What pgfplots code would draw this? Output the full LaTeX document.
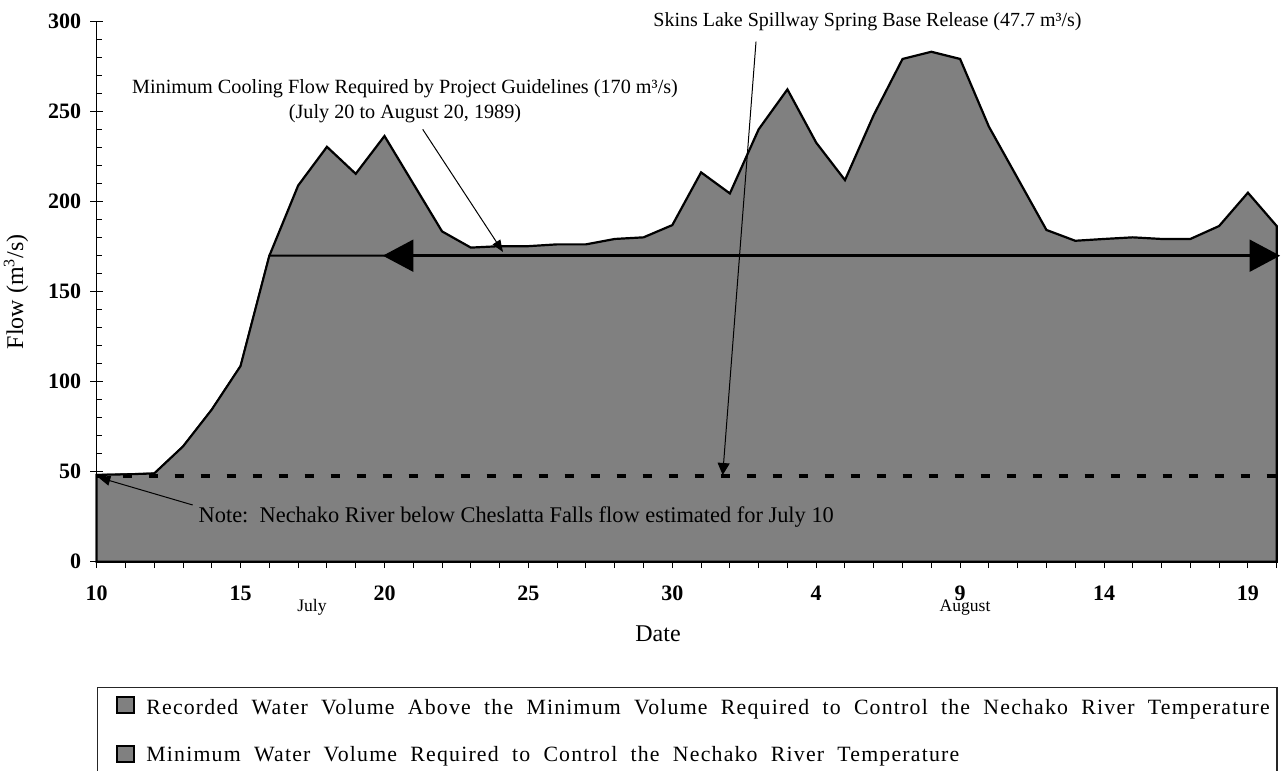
\documentclass[border=0pt]{standalone}
\usepackage{pgfplots}
\pgfplotsset{compat=1.18}
\usepackage{pgfplotstable}
\usepackage{fontspec}
\setmainfont{Liberation Serif}
\newfontfamily\legfont{Liberation Serif}[LetterSpace=5.5,WordSpace=2.0]
\usetikzlibrary{arrows.meta}
\definecolor{areagray}{RGB}{128,128,128}

\pgfplotstableread{
day flow
0 48.2
1 48.5
2 49
3 64
4 84.5
5 108.7
6 170
7 209
8 230.5
9 215.5
10 236.5
11 210
12 183.5
13 174.5
14 175.3
15 175.3
16 176.3
17 176.3
18 179.3
19 180.2
20 187
21 216.3
22 204.6
23 240.2
24 262.4
25 232.8
26 212
27 248.2
28 279.3
29 283.3
30 279.3
31 241.7
32 213
33 184.3
34 178.3
35 179.3
36 180.2
37 179.3
38 179.3
39 186.5
40 205
41 186.5
}\flowdata

\pgfplotstableread{
day minflow
0 48.2
1 48.5
2 49
3 64
4 84.5
5 108.7
6 170
10 170
20 170
30 170
41 170
}\mindata

\begin{document}
\begin{tikzpicture}
\useasboundingbox (0pt,0pt) rectangle (640.5pt,-385.5pt);
\begin{axis}[
  at={(48.35pt,-280.85pt)}, anchor=south west,
  scale only axis, width=590pt, height=270pt,
  xmin=0, xmax=41, ymin=0, ymax=300,
  axis x line=bottom, axis y line=left,
  axis line style={-, black, line width=0.6pt},
  clip=false,
  xtick={0,...,41},
  xticklabels={10,,,,,15,,,,,20,,,,,25,,,,,30,,,,,4,,,,,9,,,,,14,,,,,19,{}},
  ytick={0,50,...,300},
  yticklabels={0,50,100,150,200,250,300},
  minor y tick num=4,
  tick align=center,
  major tick length=6.4pt,
  minor tick length=2.5pt,
  minor y tick style={xshift=1.25pt},
  tick style={black, line width=0.5pt},
  ticklabel style={font=\bfseries\fontsize{11}{13}\selectfont},
  xticklabel style={yshift=-5.5pt},
  yticklabel style={xshift=-1pt},
  xlabel={Date},
  ylabel={Flow (m\textsuperscript{3}/s)},
  label style={font=\fontsize{12}{14}\selectfont},
  xlabel style={at={(rel axis cs:0.4757,-0.1326)}, anchor=center},
  ylabel style={at={(rel axis cs:-0.0684,0.5)}, anchor=center},
]
\addplot[fill=areagray, draw=black, line width=1.1pt] table[x=day,y=flow]{\flowdata} \closedcycle;
\addplot[fill=areagray, draw=black, line width=1pt] table[x=day,y=minflow]{\mindata} \closedcycle;
\addplot[black, line width=2pt, dash pattern=on 4.4pt off 8.6pt] coordinates {(0,47.7) (41.15,47.7)};
\draw[line width=1.7pt, {Triangle[length=15.3pt,width=15.8pt]}-{Triangle[length=15.3pt,width=15.8pt]}] (axis cs:9.94,170) -- (axis cs:41.12,170);
\node[font=\fontsize{8.8}{10}\selectfont] at (axis cs:7.48,-25.3) {July};
\node[font=\fontsize{8.8}{10}\selectfont] at (axis cs:30.17,-25.3) {August};
\end{axis}
\begin{scope}[x=0.5pt,y=-0.5pt]
% annotations
\node[font=\fontsize{10.1}{12.5}\selectfont, align=center] at (405,100.8) {Minimum Cooling Flow Required by Project Guidelines (170 m³/s)\\(July 20 to August 20, 1989)};
\node[font=\fontsize{10}{12}\selectfont] at (867.5,21.7) {Skins Lake Spillway Spring Base Release (47.7 m³/s)};
\node[font=\fontsize{11.2}{13}\selectfont, anchor=west, inner sep=0pt] at (198.3,516.7) {Note:\ \ Nechako River below Cheslatta Falls flow estimated for July 10};
\draw[line width=0.5pt, -{Triangle[length=6pt,width=4.5pt]}] (422.7,129.3) -- (503,252);
\draw[line width=0.5pt, -{Triangle[length=6pt,width=6pt]}] (756,41.7) -- (722.7,475);
\draw[line width=0.5pt, -{Triangle[length=6pt,width=5pt]}] (192.7,505) -- (98.3,477.3);
% legend
\draw[line width=0.6pt, draw=black!85] (97.3,687.3) rectangle (1277,800);
\filldraw[fill=areagray, draw=black, line width=1pt] (117.3,696.7) rectangle (134,713.3);
\filldraw[fill=areagray, draw=black, line width=1pt] (117.3,745.7) rectangle (134,762.3);
\node[anchor=base west, inner sep=0pt, font=\legfont\fontsize{10.9}{12}\selectfont] at (146,714.3) {Recorded Water Volume Above the Minimum Volume Required to Control the Nechako River Temperature};
\node[anchor=base west, inner sep=0pt, font=\legfont\fontsize{10.9}{12}\selectfont] at (146,761) {Minimum Water Volume Required to Control the Nechako River Temperature};
\end{scope}
\end{tikzpicture}
\end{document}
